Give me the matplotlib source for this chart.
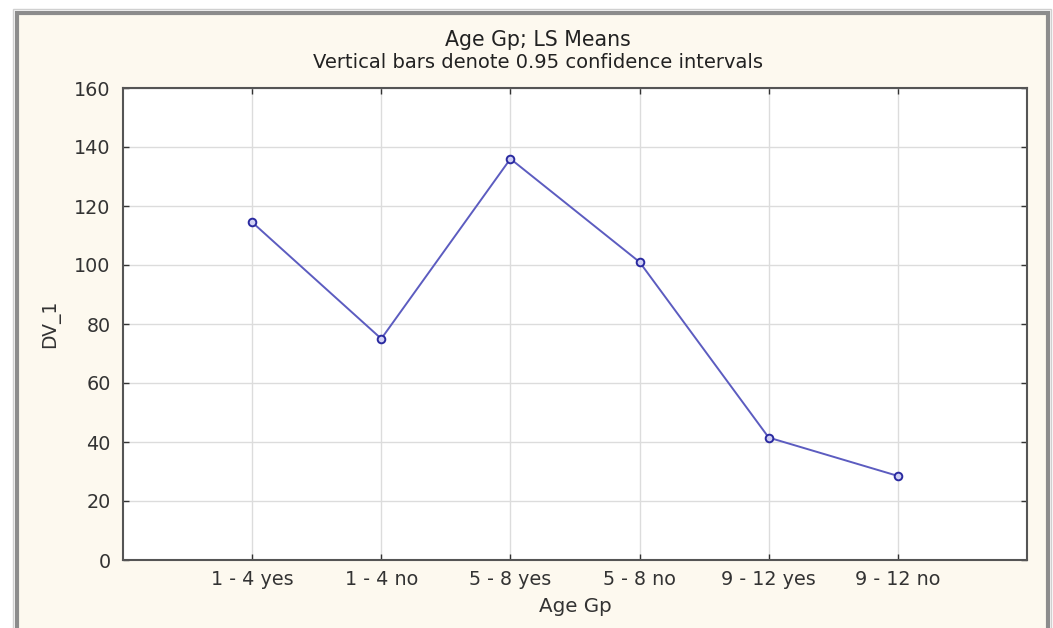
import matplotlib
matplotlib.use('Agg')
import matplotlib.pyplot as plt
from matplotlib.patches import Rectangle

plt.rcParams['font.family'] = ['DejaVu Sans']

# data
groups = ['1 - 4 yes', '1 - 4 no', '5 - 8 yes', '5 - 8 no', '9 - 12 yes', '9 - 12 no']
ls_means = [114.5, 75, 136, 101, 41.5, 28.5]
yticks = [0, 20, 40, 60, 80, 100, 120, 140, 160]

W, H = 1053, 628
fig = plt.figure(figsize=(W / 100, H / 100), dpi=100)
fig.patch.set_facecolor('white')

# window frame like the statistica window
frame = Rectangle((17 / W, -0.05), (1048 - 17) / W, 1.05 - 13 / H,
                  transform=fig.transFigure, facecolor='#fdf9ef',
                  edgecolor='#8c8c8c', lw=3, zorder=-10)
fig.patches.append(frame)
outer = Rectangle((13 / W, -0.05), (1051 - 13) / W, 1.05 - 9 / H,
                  transform=fig.transFigure, facecolor='none',
                  edgecolor='#d0d0d0', lw=1, zorder=-11)
fig.patches.append(outer)

ax = fig.add_axes([123 / W, 1 - 560 / H, (1027 - 123) / W, (560 - 88) / H])
ax.set_facecolor('white')

x = list(range(1, len(groups) + 1))
ax.plot(x, ls_means, color='#5c5cc0', lw=1.4, marker='o', ms=5.5,
        mfc='#d0d0f4', mec='#2a2aa0', mew=1.4, zorder=3)

ax.set_xlim(0, len(groups) + 1)
ax.set_ylim(0, 160)
ax.set_xticks(x)
ax.set_xticklabels(groups)
ax.set_yticks(yticks)
ax.grid(True, color='#dcdcdc', lw=1)
ax.set_axisbelow(True)

ax.tick_params(direction='in', length=4, width=1, colors='#333333',
               labelsize=13.8, top=True, right=True, pad=9)
ax.tick_params(axis='x', pad=7)
for s in ax.spines.values():
    s.set_color('#555555')
    s.set_linewidth(1.5)

ax.set_xlabel('Age Gp', fontsize=14.3, color='#333333', labelpad=6)
ax.set_ylabel('DV_1', fontsize=13.5, color='#333333', labelpad=10)

fig.text(538 / W, 1 - 40 / H, 'Age Gp; LS Means', ha='center', va='center',
         fontsize=14.8, color='#222222')
fig.text(538 / W, 1 - 63 / H, 'Vertical bars denote 0.95 confidence intervals',
         ha='center', va='center', fontsize=14, color='#222222')

fig.savefig('out.png', dpi=100, facecolor=fig.get_facecolor())
